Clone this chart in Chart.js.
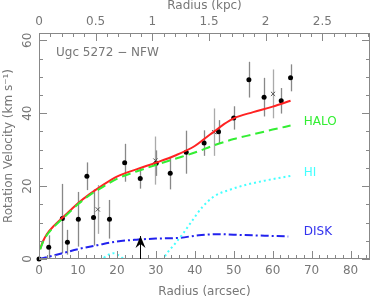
<!DOCTYPE html>
<html>
<head>
<meta charset="utf-8">
<script src="https://cdn.jsdelivr.net/npm/chart.js@4/dist/chart.umd.min.js"></script>
<style>
  html, body { margin: 0; padding: 0; background: #fff; }
  #wrap { width: 375px; height: 300px; position: relative; }
</style>
</head>
<body>
<div id="wrap"><canvas id="rc"></canvas></div>
<script>
// observed velocities (arcsec, km/s) with errors
const dotX = [0, 2.5, 6.0, 7.3, 10.1, 12.3, 14.0, 18.1, 22.0, 26.0, 30.1, 33.7, 37.8, 42.4, 46.1, 50.0, 53.9, 57.8, 62.2, 64.6];
const dotY = [0, 3.2, 11.1, 4.6, 10.9, 22.7, 11.4, 10.9, 26.4, 22.1, 26.3, 23.5, 29.3, 31.8, 34.9, 38.7, 49.2, 44.4, 43.4, 49.7];
const dotErr = [0, 3.3, 9.5, 3.4, 7.5, 3.8, 7.7, 5.3, 5.2, 2.8, 3.5, 4.4, 5.9, 3.5, 3.2, 3.2, 4.9, 5.3, 3.5, 3.7];

const crossX = [15.1, 29.9, 45.0, 60.1];
const crossY = [13.6, 27.0, 34.8, 45.3];
const crossErr = [6.7, 6.6, 6.5, 6.7];

// model curves
const totalX = [0.3, 1, 2, 4, 6, 8, 10, 13, 16, 20, 25, 30, 35, 40, 42.5, 45, 47.5, 50, 55, 60, 64.6];
const totalY = [2.8, 4.8, 6.8, 9.3, 11.3, 13.3, 15.3, 17.8, 20.0, 22.6, 24.6, 26.4, 28.4, 31.0, 33.0, 35.0, 37.0, 38.6, 40.3, 41.8, 43.4];

const haloX = [0.3, 1, 2, 4, 6, 8, 10, 13, 16, 20, 25, 30, 35, 40, 45, 50, 55, 60, 64.6];
const haloY = [2.6, 4.6, 6.5, 9.0, 11.0, 13.0, 15.0, 17.5, 19.5, 22.0, 24.0, 25.8, 27.5, 29.2, 31.2, 32.9, 34.2, 35.5, 36.6];

const hiX = [0, 16, 17.5, 19, 20.5, 22, 31.5, 33, 35, 37, 39, 42, 45, 49, 53, 58, 64.6];
const hiY = [0, 0, 1.0, 1.6, 1.0, 0, 0, 1.8, 4.3, 7.0, 10.0, 14.3, 17.2, 19.0, 20.3, 21.5, 22.8];

const diskX = [0, 5, 10, 15, 20, 25, 30, 36, 41, 46, 52, 58, 64];
const diskY = [0, 1.3, 2.7, 3.8, 4.8, 5.3, 5.6, 5.8, 6.5, 6.8, 6.6, 6.4, 6.2];

// arrow marker (arcsec, km/s)
const arrowX = 26.0;
const arrowY = 6.3;

// axis ticks
const xTicks = [0, 10, 20, 30, 40, 50, 60, 70, 80];
const yTicks = [0, 20, 40, 60];
const kpcTicks = [0, 0.5, 1, 1.5, 2, 2.5];
const arcsecPerKpc = 29.1;

const curveNames = ['HALO', 'HI', 'DISK'];
const curveNameY = [37.6, 23.7, 7.4];
const curveNameX = 68;

const FONT = "12px 'DejaVu Sans'";
const TEXT = '#777';
const AXIS = '#888';

const toPts = (xs, ys) => xs.map((x, i) => ({ x: x, y: ys[i] }));

const errorBars = {
    id: 'errorBars',
    beforeDatasetsDraw(chart) {
        const { ctx, scales: { x, y } } = chart;
        ctx.save();
        ctx.lineWidth = 1.3;
        const draw = (xs, ys, es, col) => {
            ctx.strokeStyle = col;
            xs.forEach((v, i) => {
                if (!es[i]) return;
                const px = Math.round(x.getPixelForValue(v)) + 0.5;
                ctx.beginPath();
                ctx.moveTo(px, y.getPixelForValue(Math.max(0, ys[i] - es[i])));
                ctx.lineTo(px, y.getPixelForValue(ys[i] + es[i]));
                ctx.stroke();
            });
        };
        draw(crossX, crossY, crossErr, '#aaa');
        draw(dotX, dotY, dotErr, '#888');
        ctx.restore();
    }
};

const frame = {
    id: 'frame',
    afterDraw(chart) {
        const { ctx, chartArea: a, scales: { x, y, xk } } = chart;
        ctx.save();
        ctx.strokeStyle = AXIS;
        ctx.lineWidth = 1;
        ctx.strokeRect(a.left + 0.5, a.top + 0.5, a.right - a.left - 1, a.bottom - a.top - 1);

        const vTick = (px, len) => {
            px = Math.round(px) + 0.5;
            ctx.beginPath();
            ctx.moveTo(px, a.bottom); ctx.lineTo(px, a.bottom - len);
            ctx.stroke();
        };
        // bottom ticks (arcsec)
        for (let v = 0; v <= x.max; v += 2) {
            vTick(x.getPixelForValue(v), v % 10 === 0 ? 8 : 4);
        }
        // top ticks (kpc)
        for (let k = 0; k * 0.1 <= xk.max + 1e-9; k++) {
            const px = Math.round(xk.getPixelForValue(k * 0.1)) + 0.5;
            const len = k % 5 === 0 ? 8 : 4;
            ctx.beginPath();
            ctx.moveTo(px, a.top); ctx.lineTo(px, a.top + len);
            ctx.stroke();
        }
        // left / right ticks
        for (let v = 0; v <= y.max; v += 5) {
            const py = Math.round(y.getPixelForValue(v)) + 0.5;
            const len = v % 20 === 0 ? 8 : 4;
            ctx.beginPath();
            ctx.moveTo(a.left, py); ctx.lineTo(a.left + len, py);
            ctx.moveTo(a.right, py); ctx.lineTo(a.right - len, py);
            ctx.stroke();
        }

        ctx.font = FONT;
        ctx.fillStyle = TEXT;
        ctx.textAlign = 'center';
        ctx.textBaseline = 'middle';
        xTicks.forEach(v => ctx.fillText(String(v), x.getPixelForValue(v), a.bottom + 12));
        kpcTicks.forEach(v => ctx.fillText(String(v), xk.getPixelForValue(v), a.top - 11));
        yTicks.forEach(v => {
            ctx.save();
            ctx.translate(a.left - 11, y.getPixelForValue(v));
            ctx.rotate(-Math.PI / 2);
            ctx.fillText(String(v), 0, 0);
            ctx.restore();
        });

        const cx = (a.left + a.right) / 2;
        ctx.fillText('Radius (arcsec)', cx, a.bottom + 33);
        ctx.fillText('Radius (kpc)', cx, 6);
        ctx.save();
        ctx.translate(9, (a.top + a.bottom) / 2);
        ctx.rotate(-Math.PI / 2);
        ctx.fillText('Rotation Velocity (km s\u207B\u00B9)', 0, 0);
        ctx.restore();

        ctx.textAlign = 'left';
        ctx.fillText('Ugc 5272 \u2212 NFW', a.left + 17, a.top + 20);

        const cols = ['#33ee33', '#44ffff', '#3333ee'];
        curveNames.forEach((n, i) => {
            ctx.fillStyle = cols[i];
            ctx.fillText(n, x.getPixelForValue(curveNameX), y.getPixelForValue(curveNameY[i]));
        });

        // arrow marker
        const ax = Math.round(x.getPixelForValue(arrowX)) + 0.5;
        const ay = y.getPixelForValue(arrowY);
        ctx.strokeStyle = '#000';
        ctx.lineWidth = 1;
        ctx.beginPath();
        ctx.moveTo(ax, a.bottom); ctx.lineTo(ax, ay);
        ctx.stroke();
        ctx.fillStyle = '#000';
        ctx.beginPath();
        ctx.moveTo(ax, ay);
        ctx.lineTo(ax + 5, ay + 12);
        ctx.lineTo(ax, ay + 8);
        ctx.lineTo(ax - 5, ay + 12);
        ctx.closePath();
        ctx.fill();
        ctx.restore();
    }
};

new Chart(document.getElementById('rc'), {
    type: 'scatter',
    data: {
        datasets: [
            { data: toPts(hiX, hiY), showLine: true, borderColor: '#44ffff', borderWidth: 2, borderDash: [2, 3], pointRadius: 0, cubicInterpolationMode: 'monotone' },
            { data: toPts(diskX, diskY), showLine: true, borderColor: '#2222ee', borderWidth: 2, borderDash: [8, 3, 2, 3], pointRadius: 0, cubicInterpolationMode: 'monotone' },
            { data: toPts(haloX, haloY), showLine: true, borderColor: '#33ee33', borderWidth: 2, borderDash: [9, 5], pointRadius: 0, cubicInterpolationMode: 'monotone' },
            { data: toPts(totalX, totalY), showLine: true, borderColor: '#ff2222', borderWidth: 2, pointRadius: 0, cubicInterpolationMode: 'monotone' },
            { data: toPts(crossX, crossY), pointStyle: 'crossRot', pointRadius: 3, borderColor: '#555', borderWidth: 1 },
            { data: toPts(dotX, dotY), pointRadius: 2.5, backgroundColor: '#000', borderColor: '#000', borderWidth: 0, clip: false }
        ]
    },
    options: {
        responsive: true,
        maintainAspectRatio: false,
        animation: false,
        layout: { padding: { left: 39, right: 1, top: 33, bottom: 41 } },
        plugins: { legend: { display: false }, tooltip: { enabled: false } },
        scales: {
            x: { type: 'linear', min: 0, max: 85, display: false },
            xk: { type: 'linear', axis: 'x', position: 'top', min: 0, max: 85 / arcsecPerKpc, display: false },
            y: { type: 'linear', min: 0, max: 62, display: false }
        }
    },
    plugins: [errorBars, frame]
});
</script>
</body>
</html>
